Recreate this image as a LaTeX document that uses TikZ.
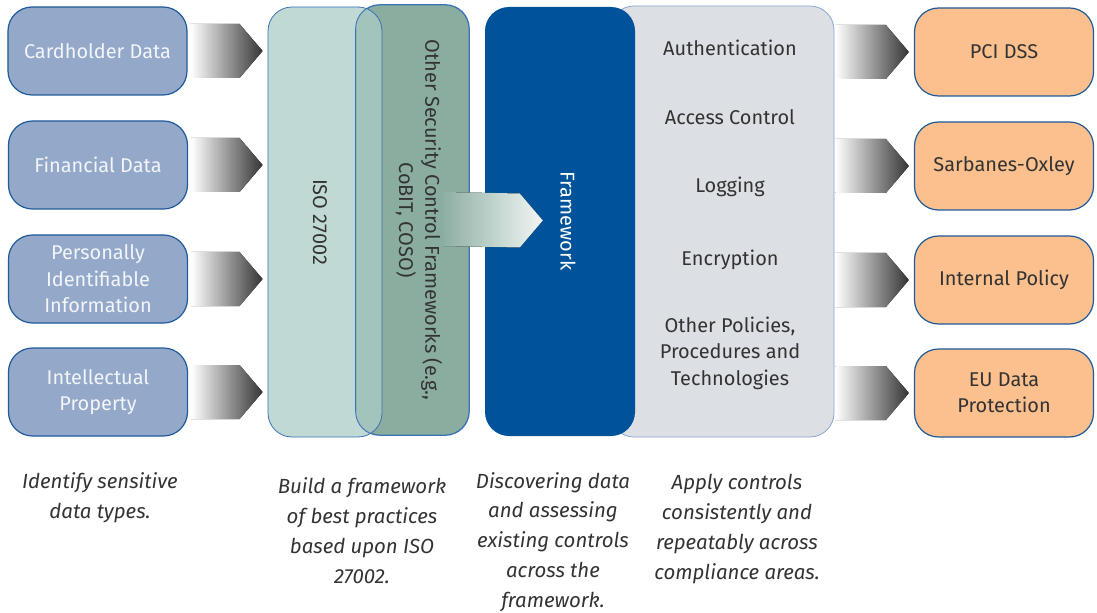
\documentclass[tikz,border=0pt]{standalone}
\usepackage{fontspec}
\setmainfont{Fira Sans}
\usetikzlibrary{calc}

\definecolor{datafill}{HTML}{94A9C9}
\definecolor{datatext}{HTML}{F2F5FA}
\definecolor{edgeblue}{HTML}{1F5A9A}
\definecolor{isofill}{HTML}{ABCCC7}
\definecolor{otherfill}{HTML}{8AADA0}
\definecolor{thinblue}{HTML}{3A72B4}
\definecolor{framefill}{HTML}{00539A}
\definecolor{ctrlfill}{HTML}{DCDFE3}
\definecolor{ctrledge}{HTML}{8AA5D6}
\definecolor{lawfill}{HTML}{FBC08E}
\definecolor{darktext}{HTML}{333333}
\definecolor{arrowdark}{HTML}{353535}
\definecolor{midleft}{HTML}{8DAFA4}
\definecolor{midright}{HTML}{F2F6F5}

\newcommand{\boxfont}{\fontsize{20}{26.5}\selectfont}
\newcommand{\notefont}{\fontsize{20.5}{30}\selectfont\itshape}

\tikzset{
  databox/.style={draw=edgeblue, line width=1.2bp, fill=datafill, rounded corners=24bp,
    minimum width=179bp, minimum height=88bp, inner sep=0pt, text=datatext,
    align=center, font=\boxfont},
  lawbox/.style={databox, fill=lawfill, text=darktext},
  tallbox/.style={rounded corners=24bp, inner sep=0pt, minimum height=430bp},
  sidetext/.style={rotate=-90, align=center, font=\boxfont, text=darktext},
  ctrltext/.style={align=center, font=\boxfont, text=darktext},
  note/.style={align=center, font=\notefont, text=darktext},
  grayarrow/.style={left color=white, right color=arrowdark},
  midarrow/.style={left color=midleft, right color=midright}
}

\begin{document}
\begin{tikzpicture}[x=1bp, y=-1bp]
  \useasboundingbox (0,0) rectangle (1097,613);

  % data types
  \node[databox] (card) at (97.5,51) {Cardholder Data};
  \node[databox] (fin) at (98,165) {Financial Data};
  \node[databox] (pii) at (98,279) {Personally\\Identifiable\\Information};
  \node[databox] (ip) at (98,392) {Intellectual\\Property};

  % controls and framework
  \node[tallbox, fill=ctrlfill, draw=ctrledge, line width=0.8bp, minimum width=224bp, minimum height=431bp] (ctrl) at (722,221.5) {};
  \node[tallbox, fill=framefill, minimum width=150bp, minimum height=429bp] (frame) at (560,221.5) {};
  \node[tallbox, fill=otherfill, draw=thinblue, line width=0.8bp, minimum width=113bp] (other) at (412.5,220) {};
  \node[tallbox, fill=isofill, fill opacity=0.75, draw=thinblue, line width=0.8bp, minimum width=114bp] (iso) at (325,222) {};
  \draw[thinblue, line width=0.8bp, rounded corners=24bp] (other.north west) rectangle (other.south east);

  \node[sidetext] (isolabel) at (320,222) {ISO 27002};
  \node[sidetext] (otherlabel) at (419,220) {Other Security Control Frameworks (e.g.,\\CoBIT, COSO)};
  \node[sidetext, text=white] (framelabel) at (568,221) {Framework};

  \node[ctrltext] (auth) at (730,48) {Authentication};
  \node[ctrltext] (access) at (730,117) {Access Control};
  \node[ctrltext] (logging) at (730,187) {Logging};
  \node[ctrltext] (encrypt) at (730,260) {Encryption};
  \node[ctrltext] (policies) at (730,353) {Other Policies,\\Procedures and\\Technologies};

  % compliance areas
  \node[lawbox] (pci) at (1004,52) {PCI DSS};
  \node[lawbox] (sox) at (1004,166) {Sarbanes-Oxley};
  \node[lawbox] (internal) at (1004,280) {Internal Policy};
  \node[lawbox] (eu) at (1004,393) {EU Data\\Protection};

  % arrows
  \foreach \src in {card,fin,pii,ip}{
    \coordinate (s) at ($(\src.east)+(3,0)$);
    \coordinate (t) at ($(iso.west |- \src.east)+(-5,0)$);
    \fill[grayarrow] ($(s)+(0,-27)$) -- ($(t)+(-23,-27)$) -- (t) -- ($(t)+(-23,27)$) -- ($(s)+(0,27)$) -- cycle;
  }
  \foreach \dst in {pci,sox,internal,eu}{
    \coordinate (s) at ($(ctrl.east |- \dst.west)+(1,0)$);
    \coordinate (t) at ($(\dst.west)+(-5,0)$);
    \fill[grayarrow] ($(s)+(0,-27)$) -- ($(t)+(-23,-27)$) -- (t) -- ($(t)+(-23,27)$) -- ($(s)+(0,27)$) -- cycle;
  }
  \coordinate (s) at ($(other.east)+(-26,-1)$);
  \coordinate (t) at ($(frame.west)+(58,-1)$);
  \fill[midarrow] ($(s)+(0,-27)$) -- ($(t)+(-23,-27)$) -- (t) -- ($(t)+(-23,27)$) -- ($(s)+(0,27)$) -- cycle;

  % steps
  \node[note] (step1) at (100,498) {Identify sensitive\\data types.};
  \node[note] (step2) at (362,530.5) {Build a framework\\of best practices\\based upon ISO\\27002.};
  \node[note] (step3) at (553,542) {Discovering data\\and assessing\\existing controls\\across the\\framework.};
  \node[note] (step4) at (737,529) {Apply controls\\consistently and\\repeatably across\\compliance areas.};
\end{tikzpicture}
\end{document}
